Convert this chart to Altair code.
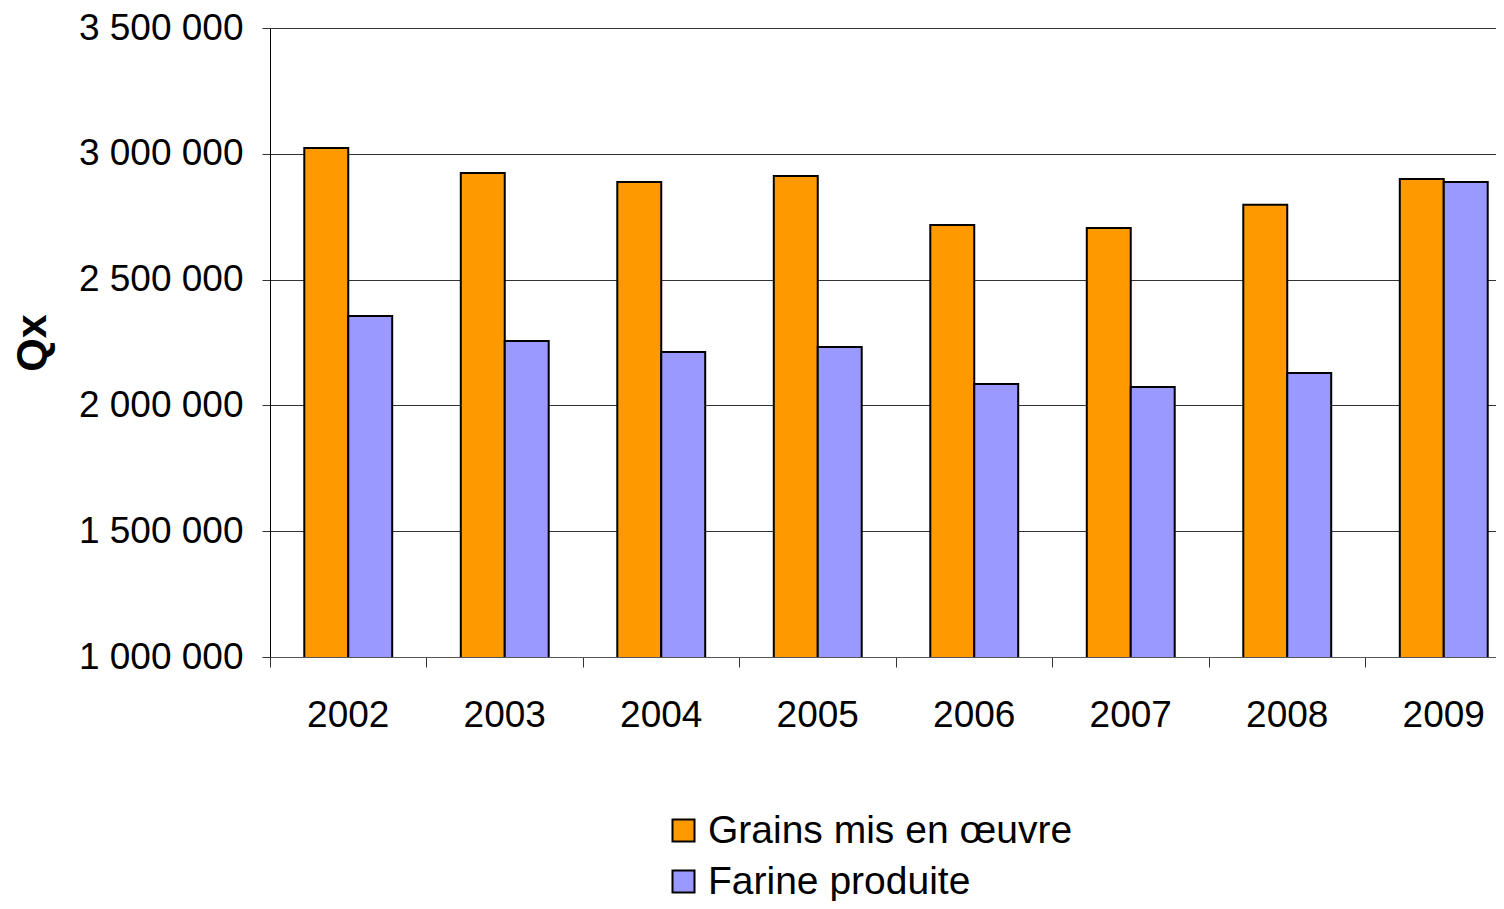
import altair as alt
import pandas as pd

years = ["2002", "2003", "2004", "2005", "2006", "2007", "2008", "2009"]
grains = [3023000, 2924000, 2888000, 2912000, 2717000, 2705000, 2797000, 2900000]
farine = [2355000, 2256000, 2212000, 2232000, 2085000, 2073000, 2129000, 2888000]
series = ["Grains mis en œuvre", "Farine produite"]
colors = ["#FF9900", "#9999FF"]
y_ticks = [1000000, 1500000, 2000000, 2500000, 3000000, 3500000]

rows = []
for i, y in enumerate(years):
    rows.append({"year": y, "serie": series[0], "value": grains[i]})
    rows.append({"year": y, "serie": series[1], "value": farine[i]})
df = pd.DataFrame(rows)

FONT = "Liberation Sans"

chart = alt.Chart(df).mark_bar(stroke="black", strokeWidth=2, clip=True).encode(
    x=alt.X("year:N", sort=years,
            scale=alt.Scale(paddingInner=0, paddingOuter=0, range=[0, 1252]),
            axis=alt.Axis(title=None, labelAngle=0, labelFontSize=37, labelFont=FONT,
                          labelColor="black", bandPosition=0, labelOffset=0,
                          tickSize=10, tickColor="#333", domainColor="#555",
                          labelPadding=30, grid=False)),
    xOffset=alt.XOffset("serie:N", sort=series,
                        scale=alt.Scale(paddingInner=0, paddingOuter=0.78)),
    y=alt.Y("value:Q",
            scale=alt.Scale(domain=[1000000, 3500000], nice=False, zero=False),
            axis=alt.Axis(title="Qx", values=y_ticks, format=",d",
                          labelExpr="replace(format(datum.value, ',d'), /,/g, ' ')",
                          labelFontSize=37, labelFont=FONT, labelColor="black",
                          labelPadding=19, tickSize=8, tickColor="#333",
                          domainColor="black", gridColor="#333", gridWidth=1,
                          titleFontSize=43, titleFont=FONT, titleFontWeight="bold",
                          titleColor="black", titleX=-238, titleBaseline="middle")),
    color=alt.Color("serie:N", sort=series,
                    scale=alt.Scale(domain=series, range=colors),
                    legend=alt.Legend(title=None, orient="none", legendX=394, legendY=783,
                                      symbolType="square", symbolSize=484,
                                      symbolStrokeColor="black", symbolStrokeWidth=2,
                                      labelFontSize=39, labelFont=FONT, labelColor="black",
                                      labelOffset=5, rowPadding=11, padding=0,
                                      labelLimit=600)),
).properties(
    width=1226, height=629,
    autosize=alt.AutoSizeParams(type="none"),
    padding={"left": 262, "top": 20, "right": 0, "bottom": 244},
).configure_view(stroke=None).configure(background="white")

chart.save("out.html", embed_options={"renderer": "svg", "actions": False})
